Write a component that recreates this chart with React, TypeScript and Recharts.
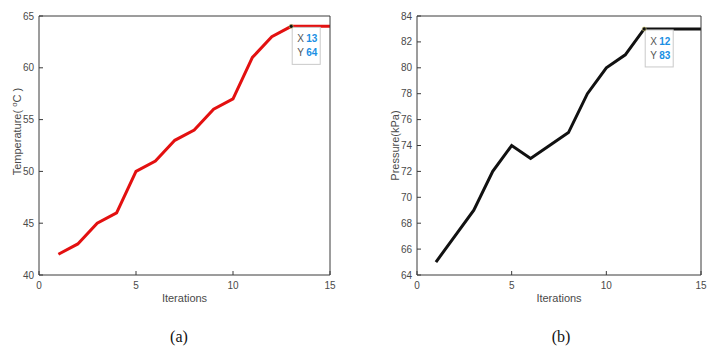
import { LineChart, Line, XAxis, YAxis, ReferenceDot } from "recharts";

const iterations = [1, 2, 3, 4, 5, 6, 7, 8, 9, 10, 11, 12, 13, 14, 15];
const temperature = [42, 43, 45, 46, 50, 51, 53, 54, 56, 57, 61, 63, 64, 64, 64];
const pressure = [65, 67, 69, 72, 74, 73, 74, 75, 78, 80, 81, 83, 83, 83, 83];
const iterationTicks = [0, 5, 10, 15];
const temperatureTicks = [40, 45, 50, 55, 60, 65];
const pressureTicks = [64, 66, 68, 70, 72, 74, 76, 78, 80, 82, 84];

const AXIS = "#3a3a3a";
const TICK_TEXT = "#4a4a4a";
const FONT = "'Liberation Sans', Arial, sans-serif";

// MATLAB-style data tip: dot with a small white box hanging off its bottom-right
function DataTip(props: any) {
  const { cx, cy, xv, yv } = props;
  if (cx == null || cy == null) return null;
  const bx = cx + 1;
  const by = cy + 1;
  return (
    <g fontFamily={FONT} fontSize={10}>
      <rect x={bx} y={by} width={28} height={37} fill="#fff" stroke="#c9c9c9" strokeWidth={1} />
      <text x={bx + 5} y={by + 15} fill="#555">X</text>
      <text x={bx + 14} y={by + 15} fill="#1a8fe3" fontWeight="bold">{xv}</text>
      <text x={bx + 5} y={by + 29} fill="#555">Y</text>
      <text x={bx + 14} y={by + 29} fill="#1a8fe3" fontWeight="bold">{yv}</text>
      <circle cx={cx} cy={cy} r={2} fill="#111" stroke="#d8d27a" strokeWidth={0.6} />
    </g>
  );
}

function Panel({
  values,
  color,
  yDomain,
  yTicks,
  yTitle,
  yTitleX,
  yTitleShift,
  tipIndex,
  width,
  margin,
}: {
  values: number[];
  color: string;
  yDomain: [number, number];
  yTicks: number[];
  yTitle: React.ReactNode;
  yTitleX: number;
  yTitleShift: number;
  tipIndex: number;
  width: number;
  margin: { top: number; right: number; left: number; bottom: number };
}) {
  const data = iterations.map((it, i) => ({ it, v: values[i] }));
  return (
    <LineChart width={width} height={320} data={data} margin={margin}>
      <XAxis
        dataKey="it"
        type="number"
        domain={[0, 15]}
        ticks={iterationTicks}
        allowDataOverflow
        height={20}
        tickSize={-4}
        tickMargin={11}
        stroke={AXIS}
        tick={{ fill: TICK_TEXT, fontSize: 10, fontFamily: FONT }}
        label={{
          content: (p: any) => {
            const vb = p.viewBox;
            return (
              <text
                x={vb.x + vb.width / 2}
                y={vb.y + 27}
                textAnchor="middle"
                fill={TICK_TEXT}
                fontSize={11}
                fontFamily={FONT}
              >
                Iterations
              </text>
            );
          },
        }}
      />
      <XAxis
        xAxisId="top"
        orientation="top"
        type="number"
        domain={[0, 15]}
        ticks={iterationTicks}
        height={1}
        tickSize={-4}
        tick={false}
        stroke={AXIS}
      />
      <YAxis
        type="number"
        domain={yDomain}
        ticks={yTicks}
        allowDataOverflow
        width={30}
        tickSize={-4}
        tickMargin={9}
        stroke={AXIS}
        tick={{ fill: TICK_TEXT, fontSize: 10, fontFamily: FONT }}
        label={{
          content: (p: any) => {
            const vb = p.viewBox;
            const cy = vb.y + vb.height / 2 + yTitleShift;
            return (
              <text
                x={yTitleX}
                y={cy}
                textAnchor="middle"
                transform={`rotate(-90 ${yTitleX} ${cy})`}
                fill={TICK_TEXT}
                fontSize={11}
                fontFamily={FONT}
              >
                {yTitle}
              </text>
            );
          },
        }}
      />
      <YAxis
        yAxisId="right"
        orientation="right"
        type="number"
        domain={yDomain}
        ticks={yTicks}
        width={1}
        tickSize={-4}
        tick={false}
        stroke={AXIS}
      />
      <Line
        dataKey="v"
        type="linear"
        stroke={color}
        strokeWidth={3}
        dot={false}
        isAnimationActive={false}
      />
      <ReferenceDot
        x={iterations[tipIndex]}
        y={values[tipIndex]}
        r={2}
        shape={(p: any) => (
          <DataTip cx={p.cx} cy={p.cy} xv={iterations[tipIndex]} yv={values[tipIndex]} />
        )}
      />
    </LineChart>
  );
}

export default function App() {
  return (
    <div
      style={{
        position: "absolute",
        left: 0,
        top: 0,
        width: 719,
        height: 351,
        background: "#fff",
        overflow: "hidden",
      }}
    >
      <div style={{ position: "absolute", left: 0, top: 0 }}>
        <Panel
          values={temperature}
          color="#e31010"
          yDomain={[40, 65]}
          yTicks={temperatureTicks}
          yTitle={
            <>
              <tspan>Temperature( </tspan>
              <tspan dy={-4} fontSize={8}>o</tspan>
              <tspan dy={4}>C )</tspan>
            </>
          }
          yTitleX={21}
          yTitleShift={-14}
          tipIndex={12}
          width={360}
          margin={{ top: 15, right: 29, left: 9, bottom: 25 }}
        />
      </div>
      <div style={{ position: "absolute", left: 360, top: 0 }}>
        <Panel
          values={pressure}
          color="#111111"
          yDomain={[64, 84]}
          yTicks={pressureTicks}
          yTitle="Pressure(kPa)"
          yTitleX={39}
          yTitleShift={0}
          tipIndex={11}
          width={359}
          margin={{ top: 15, right: 17, left: 27, bottom: 25 }}
        />
      </div>
      <div
        style={{
          position: "absolute",
          left: 139,
          width: 80,
          top: 328,
          textAlign: "center",
          fontFamily: "'Liberation Serif', 'Times New Roman', serif",
          fontSize: 16,
          color: "#111",
        }}
      >
        (a)
      </div>
      <div
        style={{
          position: "absolute",
          left: 521,
          width: 80,
          top: 328,
          textAlign: "center",
          fontFamily: "'Liberation Serif', 'Times New Roman', serif",
          fontSize: 16,
          color: "#111",
        }}
      >
        (b)
      </div>
    </div>
  );
}
